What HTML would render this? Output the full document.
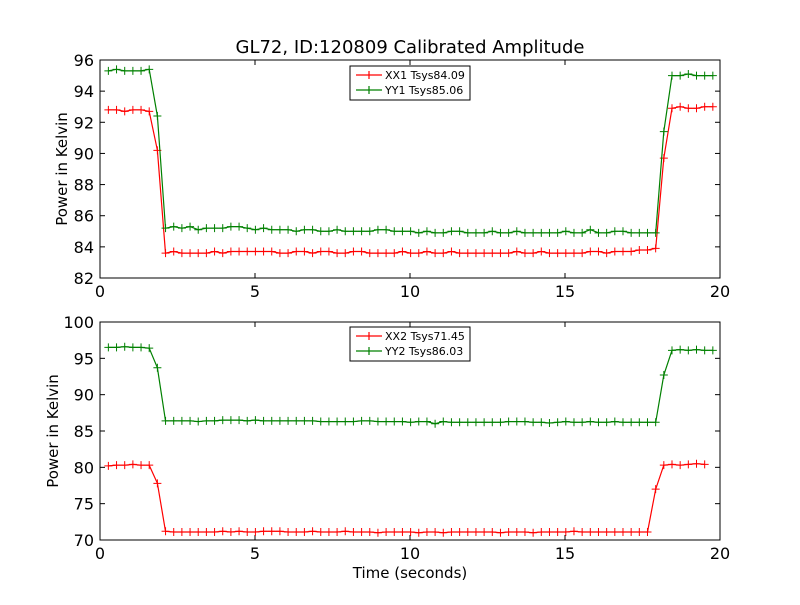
<!DOCTYPE html>
<html><head><meta charset="utf-8"><style>
body{margin:0;background:#fff;font-family:"Liberation Sans","DejaVu Sans",sans-serif}
svg text{font-family:"DejaVu Sans","Liberation Sans",sans-serif}
</style></head><body>
<svg id="c" width="800" height="600" xmlns="http://www.w3.org/2000/svg">
<rect width="800" height="600" fill="#fff"/>
<text x="410" y="53" font-size="18" text-anchor="middle">GL72, ID:120809 Calibrated Amplitude</text>
<text x="548" y="578" font-size="15" text-anchor="middle" transform="translate(-138,0)">Time (seconds)</text>
</svg>
<script>
const xTicks=[0,5,10,15,20];
const yTicksTop=[82,84,86,88,90,92,94,96];
const yTicksBot=[70,75,80,85,90,95,100];
const t0=0.27, dt=0.2635;
const xx1=[92.8,92.8,92.7,92.8,92.8,92.7,90.2,
83.6,83.7,83.6,83.6,83.6,83.6,83.7,83.6,83.7,83.7,
83.7,83.7,83.7,83.7,83.6,83.6,83.7,83.7,83.6,83.7,
83.7,83.6,83.6,83.7,83.7,83.6,83.6,83.6,83.6,83.7,
83.6,83.6,83.7,83.6,83.6,83.7,83.6,83.6,83.6,83.6,
83.6,83.6,83.6,83.7,83.6,83.6,83.7,83.6,83.6,83.6,
83.6,83.6,83.7,83.7,83.6,83.7,83.7,83.7,83.8,83.8,83.9,
89.7,92.9,93.0,92.9,92.9,93.0,93.0];
const yy1=[95.3,95.4,95.3,95.3,95.3,95.4,92.4,
85.2,85.3,85.2,85.3,85.1,85.2,85.2,85.2,85.3,85.3,
85.2,85.1,85.2,85.1,85.1,85.1,85.0,85.1,85.1,85.0,
85.0,85.1,85.0,85.0,85.0,85.0,85.1,85.1,85.0,85.0,
85.0,84.9,85.0,84.9,84.9,85.0,85.0,84.9,84.9,84.9,
85.0,84.9,84.9,85.0,84.9,84.9,84.9,84.9,84.9,85.0,
84.9,84.9,85.1,84.9,84.9,85.0,85.0,84.9,84.9,84.9,84.9,
91.4,95.0,95.0,95.1,95.0,95.0,95.0];
const xx2=[80.2,80.3,80.3,80.4,80.3,80.3,77.8,
71.2,71.1,71.1,71.1,71.1,71.1,71.1,71.2,71.1,71.2,
71.1,71.1,71.2,71.2,71.2,71.1,71.1,71.1,71.2,71.1,
71.1,71.1,71.2,71.1,71.1,71.1,71.0,71.1,71.1,71.1,
71.1,71.0,71.1,71.1,71.0,71.1,71.1,71.1,71.1,71.1,
71.1,71.0,71.1,71.1,71.1,71.0,71.1,71.1,71.1,71.1,
71.2,71.1,71.1,71.1,71.1,71.1,71.1,71.1,71.1,71.1,
77.0,80.3,80.4,80.3,80.4,80.5,80.4];
const yy2=[96.5,96.5,96.6,96.5,96.5,96.4,93.7,
86.4,86.4,86.4,86.4,86.3,86.4,86.4,86.5,86.5,86.5,
86.4,86.5,86.4,86.4,86.4,86.4,86.4,86.4,86.4,86.3,
86.3,86.3,86.3,86.3,86.4,86.4,86.3,86.3,86.3,86.3,
86.2,86.3,86.3,86.0,86.3,86.2,86.2,86.2,86.2,86.2,
86.2,86.2,86.3,86.3,86.3,86.2,86.2,86.1,86.2,86.3,
86.2,86.2,86.3,86.2,86.2,86.3,86.2,86.2,86.2,86.2,86.2,
92.7,96.1,96.2,96.1,96.2,96.1,96.1];
const NS='http://www.w3.org/2000/svg';
const svg=document.getElementById('c');
function el(tag,attrs,parent){const e=document.createElementNS(NS,tag);for(const k in attrs)e.setAttribute(k,attrs[k]);(parent||svg).appendChild(e);return e;}
function panel(top,bot,ymin,ymax,yticks,series,names,labels,tsys,legY,pname){
  const L=100,R=720;
  const g=el('g',{});
  
  
  const X=v=>L+(v-0)/(20-0)*(R-L);
  const Y=v=>bot-(v-ymin)/(ymax-ymin)*(bot-top);
  const ax=el('rect',{x:L,y:top,width:R-L,height:bot-top,fill:'#fff',stroke:'#000','stroke-width':1},g);
  
  
  xTicks.forEach(v=>{
    el('line',{x1:X(v),x2:X(v),y1:bot,y2:bot-5,stroke:'#000'},g);
    el('line',{x1:X(v),x2:X(v),y1:top,y2:top+5,stroke:'#000'},g);
    const tx=el('text',{x:X(v),y:bot+19,'font-size':16,'text-anchor':'middle'},g);
    tx.textContent=v;
    
    
  });
  yticks.forEach(v=>{
    el('line',{x1:L,x2:L+5,y1:Y(v),y2:Y(v),stroke:'#000'},g);
    el('line',{x1:R,x2:R-5,y1:Y(v),y2:Y(v),stroke:'#000'},g);
    const tx=el('text',{x:L-6,y:Y(v)+6,'font-size':16,'text-anchor':'end'},g);
    tx.textContent=v;
    
    
  });
  const yt=el('text',{x:0,y:0,'font-size':15,'text-anchor':'middle',transform:`translate(${pname==='top-panel'?67:58},${(top+bot)/2}) rotate(-90)`},g);
  yt.textContent='Power in Kelvin';
  
  
  const cols=['#ff0000','#008000'];
  series.forEach((s,si)=>{
    const pts=s.map((v,i)=>X(t0+i*dt).toFixed(1)+','+Y(v).toFixed(1)).join(' ');
    const pl=el('polyline',{points:pts,fill:'none',stroke:cols[si],'stroke-width':1.2},g);
    
    
    s.forEach((v,i)=>{
      const x=X(t0+i*dt),y=Y(v);
      const m=el('path',{d:`M${x-4},${y}H${x+4}M${x},${y-4}V${y+4}`,stroke:cols[si],'stroke-width':1},g);
      
      
    });
  });
  const lg=el('g',{},g);
  
  
  el('rect',{x:350,y:legY,width:120,height:34,fill:'#fff',stroke:'#000'},lg);
  labels.forEach((lb,i)=>{
    const yy=legY+9+i*15;
    el('path',{d:`M356,${yy}H382M369,${yy-4}V${yy+4}`,stroke:cols[i],'stroke-width':1.2},lg);
    const tx=el('text',{x:385,y:yy+4,'font-size':11},lg);
    tx.textContent=lb+' Tsys'+tsys[i];
    
    
  });
}
panel(60,278,82,96,yTicksTop,[xx1,yy1],['xx1','yy1'],['XX1','YY1'],['84.09','85.06'],66,'top-panel');
panel(322,540,70,100,yTicksBot,[xx2,yy2],['xx2','yy2'],['XX2','YY2'],['71.45','86.03'],327,'bottom-panel');
</script>
</body></html>
